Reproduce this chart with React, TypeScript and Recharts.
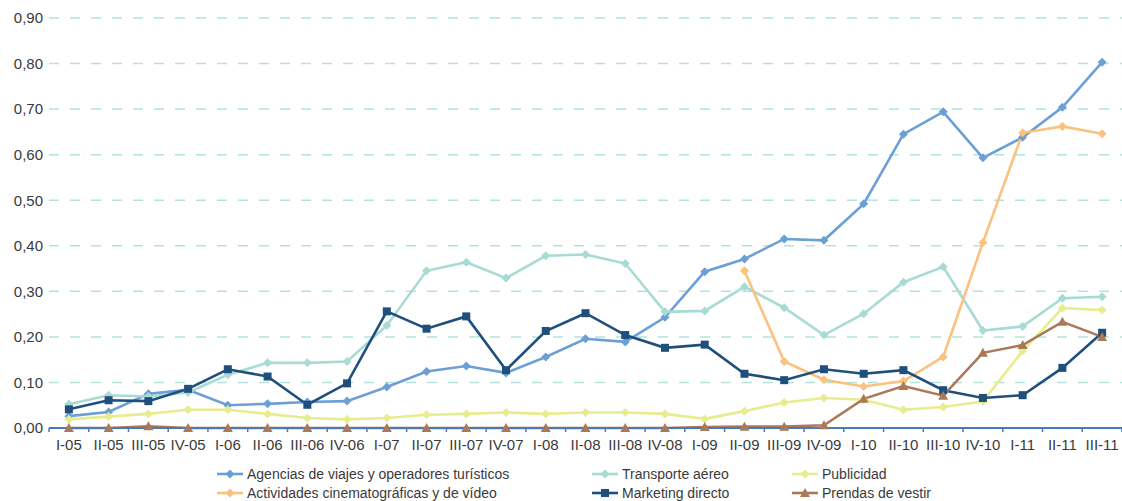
import React from "react";
import { CartesianGrid, Line, LineChart, XAxis, YAxis } from "recharts";

// quarters on the x axis
const quarters = [
  "I-05", "II-05", "III-05", "IV-05",
  "I-06", "II-06", "III-06", "IV-06",
  "I-07", "II-07", "III-07", "IV-07",
  "I-08", "II-08", "III-08", "IV-08",
  "I-09", "II-09", "III-09", "IV-09",
  "I-10", "II-10", "III-10", "IV-10",
  "I-11", "II-11", "III-11",
];

const agencias = [
  0.026, 0.035, 0.075, 0.084, 0.05, 0.053, 0.057, 0.059, 0.09, 0.124, 0.136, 0.121, 0.156, 0.196,
  0.189, 0.243, 0.343, 0.371, 0.415, 0.412, 0.492, 0.645, 0.694, 0.593, 0.638, 0.704, 0.803,
];
const transporte = [
  0.052, 0.072, 0.069, 0.078, 0.117, 0.143, 0.143, 0.146, 0.225, 0.345, 0.364, 0.329, 0.378, 0.381,
  0.361, 0.255, 0.257, 0.31, 0.264, 0.204, 0.251, 0.32, 0.354, 0.214, 0.223, 0.285, 0.288,
];
const publicidad = [
  0.019, 0.025, 0.031, 0.04, 0.04, 0.031, 0.022, 0.019, 0.022, 0.029, 0.031, 0.034, 0.031, 0.034,
  0.034, 0.031, 0.02, 0.037, 0.056, 0.066, 0.062, 0.04, 0.046, 0.058, 0.169, 0.263, 0.259,
];
const actividades: (number | null)[] = [
  null, null, null, null, null, null, null, null, null, null, null, null, null, null,
  null, null, null, 0.345, 0.146, 0.106, 0.091, 0.103, 0.156, 0.407, 0.648, 0.662, 0.646,
];
const marketing = [
  0.041, 0.061, 0.059, 0.086, 0.129, 0.113, 0.051, 0.098, 0.256, 0.218, 0.245, 0.127, 0.213, 0.252,
  0.204, 0.176, 0.183, 0.119, 0.105, 0.129, 0.119, 0.127, 0.083, 0.066, 0.072, 0.132, 0.209,
];
const prendas = [
  0, 0, 0.004, 0, 0, 0, 0, 0, 0, 0, 0, 0, 0, 0,
  0, 0, 0.002, 0.003, 0.003, 0.006, 0.064, 0.092, 0.071, 0.165, 0.182, 0.233, 0.2,
];

const yTicks = [0, 0.1, 0.2, 0.3, 0.4, 0.5, 0.6, 0.7, 0.8, 0.9];

const data = quarters.map((q, i) => ({
  q,
  agencias: agencias[i],
  transporte: transporte[i],
  publicidad: publicidad[i],
  actividades: actividades[i],
  marketing: marketing[i],
  prendas: prendas[i],
}));

type Shape = "diamond" | "square" | "triangle";

const series: { key: string; name: string; color: string; shape: Shape }[] = [
  { key: "agencias", name: "Agencias de viajes y operadores turísticos", color: "#6b9fd6", shape: "diamond" },
  { key: "transporte", name: "Transporte aéreo", color: "#a7dbd3", shape: "diamond" },
  { key: "publicidad", name: "Publicidad", color: "#e7ec8e", shape: "diamond" },
  { key: "actividades", name: "Actividades cinematográficas y de vídeo", color: "#fbc17e", shape: "diamond" },
  { key: "marketing", name: "Marketing directo", color: "#1f4f7c", shape: "square" },
  { key: "prendas", name: "Prendas de vestir", color: "#a97a5a", shape: "triangle" },
];

// legend is laid out as two rows by three columns
const legendCols = [217, 592, 792];
const legendRows = [474, 493];
const legendOrder = [
  ["agencias", "transporte", "publicidad"],
  ["actividades", "marketing", "prendas"],
];

const FONT = "'Liberation Sans', Arial, sans-serif";
const TEXT = "#3a3a3a";
const AXIS = "#4a78bd";

function marker(shape: Shape, cx: number, cy: number, color: string, key?: string | number) {
  if (shape === "square") {
    return <rect key={key} x={cx - 4} y={cy - 4} width={8} height={8} fill={color} />;
  }
  if (shape === "triangle") {
    return <polygon key={key} points={`${cx},${cy - 5} ${cx + 5},${cy + 4} ${cx - 5},${cy + 4}`} fill={color} />;
  }
  return <polygon key={key} points={`${cx},${cy - 4.5} ${cx + 4.5},${cy} ${cx},${cy + 4.5} ${cx - 4.5},${cy}`} fill={color} />;
}

function makeDot(shape: Shape, color: string) {
  return (props: any) => {
    const { cx, cy, index, value } = props;
    if (value == null || cx == null || cy == null) return <g key={`e-${index}`} />;
    return marker(shape, cx, cy, color, `d-${index}`);
  };
}

function QuarterTick(props: any) {
  const { x, y, payload, index, visibleTicksCount, width } = props;
  const half = payload?.offset || width / (visibleTicksCount || 27) / 2;
  const axisY = y - 11;
  return (
    <g>
      <line x1={x - half} x2={x - half} y1={axisY} y2={axisY + 4} stroke={AXIS} strokeWidth={1.5} />
      {index === visibleTicksCount - 1 && (
        <line x1={x + half} x2={x + half} y1={axisY} y2={axisY + 4} stroke={AXIS} strokeWidth={1.5} />
      )}
      <text x={x} y={y} dy="0.71em" textAnchor="middle" fill={TEXT} fontSize={15} fontFamily={FONT}>
        {payload.value}
      </text>
    </g>
  );
}

export default function App() {
  return (
    <div style={{ position: "absolute", left: 0, top: 0, width: 1122, height: 501, background: "#fff" }}>
      <LineChart width={1122} height={501} data={data} margin={{ top: 18, right: 0, bottom: 43, left: 0 }}>
        <CartesianGrid vertical={false} stroke="#b3e3dc" strokeWidth={1.5} strokeDasharray="10 11" />
        <XAxis
          dataKey="q"
          scale="band"
          interval={0}
          height={30}
          tickLine={false}
          tickSize={0}
          tickMargin={11}
          axisLine={{ stroke: AXIS, strokeWidth: 2 }}
          tick={<QuarterTick />}
        />
        <YAxis
          width={49}
          domain={[0, 0.9]}
          ticks={yTicks}
          axisLine={false}
          tickLine={false}
          tickSize={6}
          tickMargin={0}
          tick={{ fill: TEXT, fontSize: 15, fontFamily: FONT }}
          tickFormatter={(v: number) => v.toFixed(2).replace(".", ",")}
        />
        {series.map((s) => (
          <Line
            key={s.key}
            dataKey={s.key}
            name={s.name}
            stroke={s.color}
            strokeWidth={2.6}
            dot={makeDot(s.shape, s.color)}
            activeDot={false}
            connectNulls={false}
            isAnimationActive={false}
          />
        ))}
      </LineChart>
      {legendOrder.map((row, r) =>
        row.map((k, c) => {
          const s = series.find((x) => x.key === k)!;
          return (
            <div
              key={k}
              style={{
                position: "absolute",
                left: legendCols[c],
                top: legendRows[r] - 9,
                height: 18,
                display: "flex",
                alignItems: "center",
                whiteSpace: "nowrap",
                fontFamily: FONT,
                fontSize: 14,
                color: TEXT,
              }}
            >
              <svg width={26} height={12} style={{ marginRight: 4 }}>
                <line x1={0} x2={26} y1={6} y2={6} stroke={s.color} strokeWidth={2.6} />
                {marker(s.shape, 13, 6, s.color)}
              </svg>
              {s.name}
            </div>
          );
        })
      )}
    </div>
  );
}
